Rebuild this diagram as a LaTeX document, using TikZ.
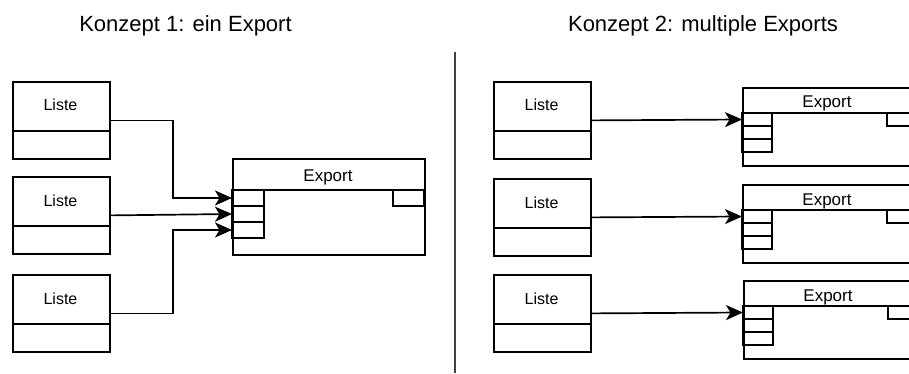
\documentclass[tikz,border=0pt]{standalone}
\usepackage{fontspec}
\setmainfont{Liberation Sans}
\usetikzlibrary{arrows.meta,calc}

\tikzset{
  boxline/.style={draw=black, line width=1.8pt},
  conn/.style={draw=black, line width=1.7pt,
    -{Stealth[length=17pt, width=15pt, inset=4.5pt]}},
  titletext/.style={font=\fontsize{22}{26}\selectfont, anchor=base, inner sep=0pt},
  listetext/.style={font=\fontsize{16}{19}\selectfont, anchor=base, inner sep=0pt},
  exporttext/.style={font=\fontsize{17}{20}\selectfont, anchor=base, inner sep=0pt},
  sepline/.style={draw=black!75, line width=1.6pt}
}

% Liste box: #1 name, #2 x, #3 y (top left corner)
\newcommand{\ListeBox}[3]{%
  \begin{scope}[shift={(#2,#3)}]
    \node[boxline, rectangle, inner sep=0pt, minimum width=97pt,
          minimum height=77pt, anchor=north west] (#1) at (0,0) {};
    \draw[boxline] (0,50) -- (97,50);
    \node[listetext] (#1-t) at (48.5,30) {Liste};
  \end{scope}}

% Export box: #1 name, #2 x, #3 y (top left), #4 width, #5 row height, #6 row width
\newcommand{\ExportBox}[6]{%
  \begin{scope}[shift={(#2,#3)}]
    \node[boxline, rectangle, inner sep=0pt, minimum width=#4pt,
          minimum height=6*#5pt, anchor=north west] (#1) at (0,0) {};
    \draw[boxline] (0,2*#5) -- (#4,2*#5);
    \draw[boxline] (0,2*#5) rectangle (#6,3*#5);
    \draw[boxline] (0,3*#5) rectangle (#6,4*#5);
    \draw[boxline] (0,4*#5) rectangle (#6,5*#5);
    \draw[boxline] (#4-2*#5+1,2*#5) rectangle (#4,3*#5);
    \node[exporttext] (#1-t) at (#4/2,#5+8) {Export};
    \coordinate (#1-i1) at (0,2.5*#5);
    \coordinate (#1-i2) at (0,3.5*#5);
    \coordinate (#1-i3) at (0,4.5*#5);
  \end{scope}}

\begin{document}
\begin{tikzpicture}[x=1pt, y=-1pt]
  \useasboundingbox (0,0) rectangle (909,374);
  \clip (0,0) rectangle (909,374);
  \fill[white] (0,0) rectangle (909,374);

  % headings
  \node[titletext] (h1) at (185.5,32) {Konzept 1: ein Export};
  \node[titletext] (h2) at (703,32) {Konzept 2: multiple Exports};

  % separator between the two concepts
  \coordinate (sepTop) at (455,52);
  \coordinate (sepBot) at (455,373);
  \draw[sepline] (sepTop) -- (sepBot);

  % concept 1: three lists feeding one export
  \ListeBox{l1}{12}{81}
  \ListeBox{l2}{12}{176}
  \ListeBox{l3}{12}{274}
  \ExportBox{ex}{232}{158}{192}{16}{32}

  \draw[conn] (l1.east) -- ++(62,0) |- (ex-i1);
  \draw[conn] (l2.east) -- (ex-i2);
  \draw[conn] (l3.east) -- ++(62,0) |- (ex-i3);

  % concept 2: each list with its own export
  \ListeBox{r1}{493}{81}
  \ListeBox{r2}{493}{178}
  \ListeBox{r3}{493}{274}
  \ExportBox{ea}{742}{87}{170}{13}{30}
  \ExportBox{eb}{742}{184}{170}{13}{30}
  \ExportBox{ec}{743}{280}{170}{13}{30}

  \draw[conn] (r1.east) -- (ea-i1);
  \draw[conn] (r2.east) -- (eb-i1);
  \draw[conn] (r3.east) -- (ec-i1);
\end{tikzpicture}
\end{document}
